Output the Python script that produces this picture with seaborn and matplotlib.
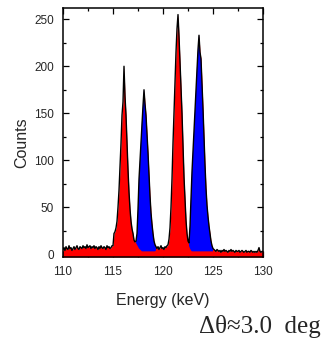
import numpy as np
import pandas as pd
import matplotlib
matplotlib.use("Agg")
import matplotlib.pyplot as plt
import seaborn as sns
from matplotlib.ticker import MultipleLocator

# Spectrum channels: 0.1 keV wide, starting at 110.0 keV
energy_start = 110.0
energy_step = 0.1

# Total measured counts per channel (110.0 ... 130.0 keV)
total_counts = [
    # 110.0 - 114.9 background
    5, 7, 4, 8, 6, 5, 9, 6, 7, 4, 6, 8, 5, 7, 9, 6, 5, 8, 7, 6,
    9, 7, 8, 6, 10, 7, 8, 9, 6, 8, 7, 9, 6, 8, 7, 5, 8, 6, 9, 7,
    6, 8, 7, 5, 9, 7, 8, 6, 7, 9,
    # 115.0 - 117.2 first red line
    9, 22, 24, 28, 35, 50, 68, 92, 118, 148, 162, 200, 168, 148, 118, 90,
    66, 48, 35, 27, 22, 15, 13,
    # 117.3 - 119.3 first blue line
    14, 22, 48, 80, 100, 120, 142, 158, 175, 160, 148, 128, 108, 85, 62, 44,
    32, 22, 14, 10, 8,
    # 119.4 - 120.4 background
    6, 8, 5, 7, 9, 6, 7, 5, 8, 7, 9,
    # 120.5 - 122.5 second red line
    10, 16, 28, 50, 80, 118, 150, 185, 215, 240, 255, 232, 205, 178, 150, 115,
    82, 58, 36, 22, 14,
    # 122.6 - 125.0 second blue line
    12, 30, 60, 88, 110, 130, 152, 175, 200, 218, 233, 215, 208, 182, 155, 125,
    95, 70, 52, 40, 30, 22, 14, 9, 6,
    # 125.1 - 130.0 background
    5, 4, 3, 5, 4, 3, 4, 2, 4, 3, 5, 3, 4, 3, 2, 4, 3, 5, 3, 4,
    3, 2, 4, 3, 3, 4, 2, 3, 4, 3, 2, 3, 4, 2, 3, 3, 2, 4, 3, 2,
    3, 2, 3, 2, 4, 7, 3, 2, 3, 3,
]

# Counts attributed to the blue lines
blue_peak_1_start = 117.3
blue_peak_1 = [2, 12, 40, 74, 95, 116, 139, 155, 172, 157, 145, 125, 105, 82,
               59, 41, 29, 19, 11, 7, 4]
blue_peak_2_start = 122.6
blue_peak_2 = [3, 24, 56, 85, 107, 127, 149, 172, 197, 215, 230, 212, 205, 179,
               152, 122, 92, 67, 49, 37, 27, 19, 11, 6, 3]

x_ticks = [110, 115, 120, 125, 130]
y_ticks = [0, 50, 100, 150, 200, 250]

energy = np.round(energy_start + energy_step * np.arange(len(total_counts)), 1)
df = pd.DataFrame({"energy": energy, "counts": np.array(total_counts, float)})
df["blue"] = 0.0
for start, seg in [(blue_peak_1_start, blue_peak_1), (blue_peak_2_start, blue_peak_2)]:
    i0 = int(round((start - energy_start) / energy_step))
    df.loc[i0:i0 + len(seg) - 1, "blue"] = seg
df["red_top"] = df["counts"] - df["blue"]

sns.set_style("ticks")
plt.rcParams["font.family"] = ["Liberation Sans", "DejaVu Sans"]

fig = plt.figure(figsize=(3.25, 3.43), dpi=100)
ax = fig.add_axes([63 / 325, 1 - 257 / 343, 200 / 325, 249 / 343])

ymin, ymax = -3, 262
ax.fill_between(df["energy"], ymin, df["counts"], color="#ff0000", lw=0)
ax.fill_between(df["energy"], df["red_top"], df["counts"],
                where=df["blue"] > 0, color="#0000ff", lw=0)
sns.lineplot(data=df, x="energy", y="counts", color="black", lw=1.0, ax=ax)

ax.set_xlim(110, 130)
ax.set_ylim(ymin, ymax)
ax.set_xticks(x_ticks)
ax.set_yticks(y_ticks)
ax.xaxis.set_minor_locator(MultipleLocator(2.5))
ax.yaxis.set_minor_locator(MultipleLocator(25))
ax.tick_params(which="both", direction="in", top=True, right=True,
               width=0.9, color="black")
ax.tick_params(which="major", length=4, labelsize=8.5, pad=6.5)
ax.tick_params(which="minor", length=2.5)
for s in ax.spines.values():
    s.set_linewidth(1.1)
    s.set_color("black")
ax.set_xlabel("")
ax.set_ylabel("")

fig.text(163 / 325, 1 - 300 / 343, "Energy (keV)", ha="center", va="center",
         fontsize=11.5)
fig.text(22 / 325, 1 - 143 / 343, "Counts", ha="center", va="center",
         rotation=90, fontsize=11.5)
fig.text(321 / 325, 1 - 333 / 343, "Δθ≈3.0  deg", ha="right", va="baseline",
         fontsize=18, family=["Liberation Serif", "DejaVu Serif"])

fig.savefig("out.png", dpi=100)
